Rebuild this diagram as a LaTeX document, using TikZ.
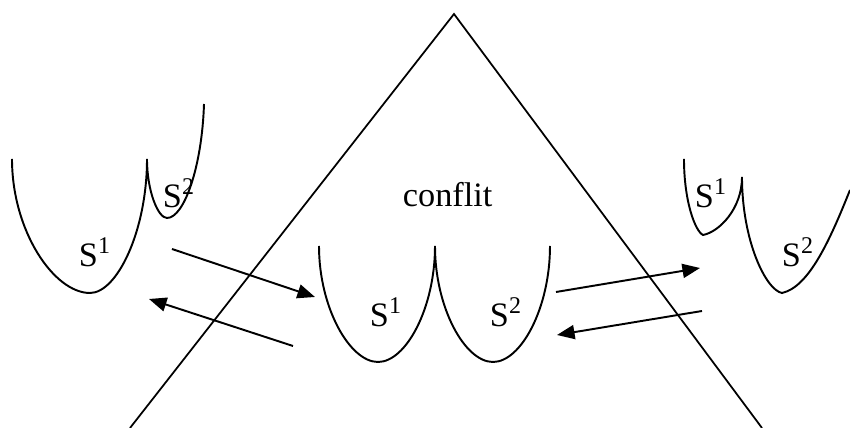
\documentclass[tikz,border=0pt]{standalone}
\usepackage{fontspec}
\setmainfont{Liberation Serif}
\usetikzlibrary{arrows.meta}

\begin{document}
\begin{tikzpicture}[x=0.02cm, y=-0.02cm, line width=1.1pt,
    lbl/.style={anchor=base west, inner sep=0pt, font=\fontsize{19.5}{22}\selectfont},
    move/.style={-{Triangle[length=10pt, width=8pt]}}]
    \useasboundingbox (0,0) rectangle (850,428);
    % the triangle
    \coordinate (top) at (454,14);
    \coordinate (bl) at (130,428);
    \coordinate (br) at (762,428);
        \draw[line width=1pt] (bl) -- (top) -- (br);
    \node[lbl] (conf) at (402,207) {conflit};
    % wells on the left
    \coordinate (l0) at (12,159);
    \coordinate (l1) at (90,293);
    \coordinate (l2) at (147,159);
    \coordinate (l3) at (167,218);
    \coordinate (l4) at (204,104);
        \draw (l0) .. controls +(0,72) and +(-36,0) .. (l1)
            .. controls +(27,0) and +(0,72) .. (l2)
            .. controls +(0,32) and +(-9,0) .. (l3)
            .. controls +(17,0) and +(-2,63) .. (l4);
    \node[lbl] (ls1) at (78,267) {S\textsuperscript{1}};
    \node[lbl] (ls2) at (162,208) {S\textsuperscript{2}};
    % wells in the middle
    \coordinate (c0) at (319,246);
    \coordinate (c1) at (378,362);
    \coordinate (c2) at (435,246);
    \coordinate (c3) at (493,362);
    \coordinate (c4) at (550,246);
        \draw (c0) .. controls +(0,62) and +(-28,0) .. (c1)
            .. controls +(28,0) and +(0,62) .. (c2)
            .. controls +(0,62) and +(-28,0) .. (c3)
            .. controls +(28,0) and +(0,62) .. (c4);
    \node[lbl] (cs1) at (369,327) {S\textsuperscript{1}};
    \node[lbl] (cs2) at (489,327) {S\textsuperscript{2}};
    % wells on the right
    \coordinate (r0) at (684,159);
    \coordinate (r1) at (703,235);
    \coordinate (r2) at (742,177);
    \coordinate (r3) at (782,293);
    \coordinate (r4) at (850,190);
        \draw (r0) .. controls +(0,42) and +(-8,-4) .. (r1)
            .. controls +(16,-3) and +(0,32) .. (r2)
            .. controls +(0,64) and +(-16,-3) .. (r3)
            .. controls +(27,-6) and +(-20,50) .. (r4);
    \node[lbl] (rs1) at (694,208) {S\textsuperscript{1}};
    \node[lbl] (rs2) at (781,267) {S\textsuperscript{2}};
    % arrows
    \coordinate (a1) at (172,249);
    \coordinate (b1) at (315,297);
    \coordinate (a2) at (293,346);
    \coordinate (b2) at (149,299);
    \coordinate (a3) at (556,292);
    \coordinate (b3) at (700,268);
    \coordinate (a4) at (702,311);
    \coordinate (b4) at (557,335);
        \draw[move] (a1) -- (b1);
        \draw[move] (a2) -- (b2);
        \draw[move] (a3) -- (b3);
        \draw[move] (a4) -- (b4);
\end{tikzpicture}
\end{document}
